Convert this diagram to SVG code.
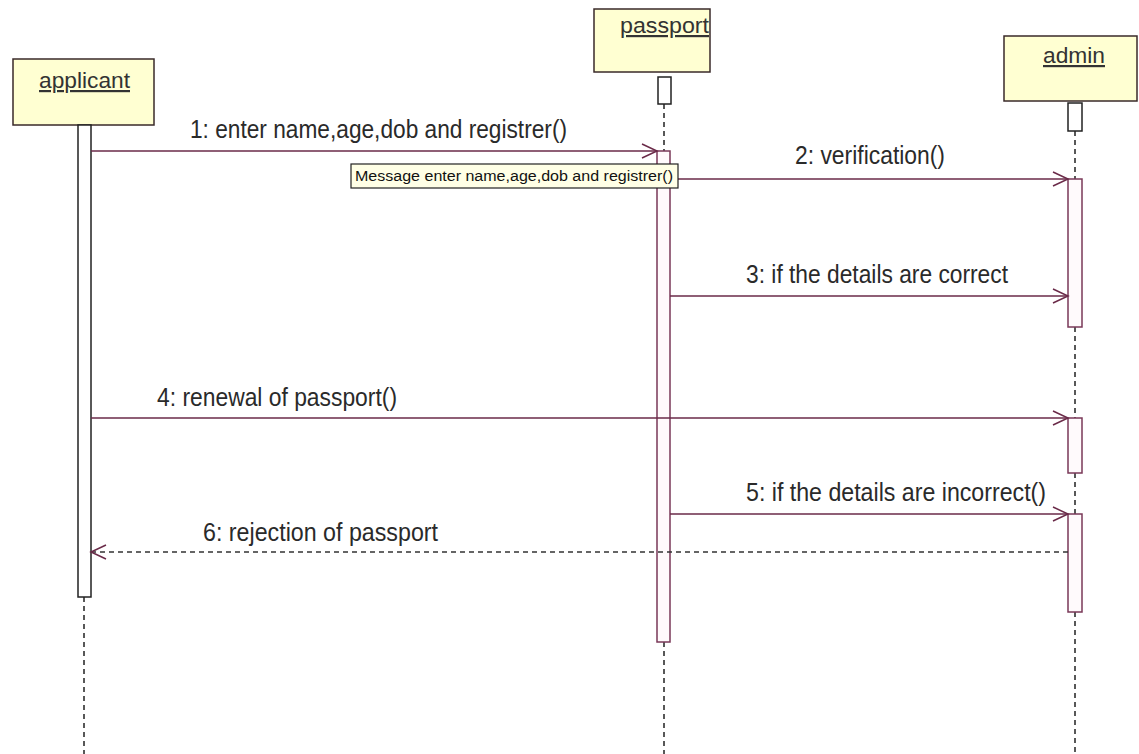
<svg xmlns="http://www.w3.org/2000/svg" width="1139" height="754" viewBox="0 0 1139 754">
  <style>
    .head { fill: #ffffd2; stroke: #3a2a2a; stroke-width: 1.5; }
    .htxt { font-family: "Liberation Sans", Arial, sans-serif; font-size: 22px; fill: #333; text-decoration: underline; }
    .life { stroke: #222; stroke-width: 1.5; stroke-dasharray: 5 4; fill: none; }
    .stub { fill: #fff; stroke: #222; stroke-width: 1.5; }
    .act { fill: #fffafc; stroke: #7a3858; stroke-width: 1.5; }
    .actk { fill: #fff; stroke: #222; stroke-width: 1.5; }
    .msg { stroke: #6a2a48; stroke-width: 1.5; fill: none; }
    .ret { stroke: #333; stroke-width: 1.5; stroke-dasharray: 5 4; fill: none; }
    .lbl { font-family: "Liberation Sans", Arial, sans-serif; font-size: 25px; fill: #2a2a2a; }
    .tip { fill: #ffffe6; stroke: #222; stroke-width: 1.2; }
    .tiptxt { font-family: "Liberation Sans", Arial, sans-serif; font-size: 14px; fill: #111; }
  </style>
  <defs>
    <marker id="open" markerUnits="userSpaceOnUse" markerWidth="18" markerHeight="18" refX="16" refY="8" orient="auto">
      <path d="M1,1 L16,8 L1,15" fill="none" stroke="#6a2a48" stroke-width="1.5"/>
    </marker>
    <marker id="openRet" markerUnits="userSpaceOnUse" markerWidth="18" markerHeight="18" refX="16" refY="8" orient="auto">
      <path d="M1,1 L16,8 L1,15" fill="none" stroke="#6a2a48" stroke-width="1.5"/>
    </marker>
  </defs>
  <rect width="1139" height="754" fill="#fff"/>

  <!-- lifeline: applicant -->
  <g id="applicant">
    <rect class="head" x="13" y="59" width="141" height="66"/>
    <text class="htxt" x="39" y="88" textLength="91" lengthAdjust="spacingAndGlyphs">applicant</text>
    <line class="life" x1="84" y1="597" x2="84" y2="754"/>
    <rect class="actk" x="78" y="125" width="13" height="472"/>
  </g>

  <!-- lifeline: passport -->
  <g id="passport">
    <rect class="head" x="594" y="9" width="116" height="63"/>
    <text class="htxt" x="620" y="33" textLength="89" lengthAdjust="spacingAndGlyphs">passport</text>
    <rect class="stub" x="658" y="77" width="13" height="27"/>
    <line class="life" x1="664" y1="104" x2="664" y2="151"/>
    <line class="life" x1="664" y1="642" x2="664" y2="754"/>
    <rect class="act" x="657" y="151" width="13" height="491"/>
  </g>

  <!-- lifeline: admin -->
  <g id="admin">
    <rect class="head" x="1004" y="36" width="133" height="65"/>
    <text class="htxt" x="1043" y="63" textLength="62" lengthAdjust="spacingAndGlyphs">admin</text>
    <rect class="stub" x="1068" y="103" width="14" height="28"/>
    <line class="life" x1="1075" y1="131" x2="1075" y2="179"/>
    <line class="life" x1="1075" y1="327" x2="1075" y2="418"/>
    <line class="life" x1="1075" y1="473" x2="1075" y2="514"/>
    <line class="life" x1="1075" y1="612" x2="1075" y2="754"/>
    <rect class="act" x="1068" y="179" width="14" height="148"/>
    <rect class="act" x="1068" y="418" width="14" height="55"/>
    <rect class="act" x="1068" y="514" width="14" height="98"/>
  </g>

  <!-- messages -->
  <g id="connectors">
    <line class="msg" x1="91" y1="151" x2="657" y2="151" marker-end="url(#open)"/>
    <text class="lbl" x="190" y="138" textLength="377" lengthAdjust="spacingAndGlyphs">1: enter name,age,dob and registrer()</text>

    <line class="msg" x1="670" y1="179" x2="1068" y2="179" marker-end="url(#open)"/>
    <text class="lbl" x="795" y="164" textLength="150" lengthAdjust="spacingAndGlyphs">2: verification()</text>

    <line class="msg" x1="670" y1="296" x2="1068" y2="296" marker-end="url(#open)"/>
    <text class="lbl" x="746" y="283" textLength="262" lengthAdjust="spacingAndGlyphs">3: if the details are correct</text>

    <line class="msg" x1="91" y1="418" x2="1068" y2="418" marker-end="url(#open)"/>
    <text class="lbl" x="157" y="406" textLength="240" lengthAdjust="spacingAndGlyphs">4: renewal of passport()</text>

    <line class="msg" x1="670" y1="514" x2="1068" y2="514" marker-end="url(#open)"/>
    <text class="lbl" x="746" y="501" textLength="300" lengthAdjust="spacingAndGlyphs">5: if the details are incorrect()</text>

    <line class="ret" x1="1068" y1="552" x2="91" y2="552" marker-end="url(#openRet)"/>
    <text class="lbl" x="203" y="541" textLength="235" lengthAdjust="spacingAndGlyphs">6: rejection of passport</text>
  </g>

  <!-- hover tooltip over message 1 -->
  <g id="tooltip">
    <rect class="tip" x="351" y="164" width="327" height="24"/>
    <text class="tiptxt" x="355" y="181" textLength="318" lengthAdjust="spacingAndGlyphs">Message enter name,age,dob and registrer()</text>
  </g>
</svg>
